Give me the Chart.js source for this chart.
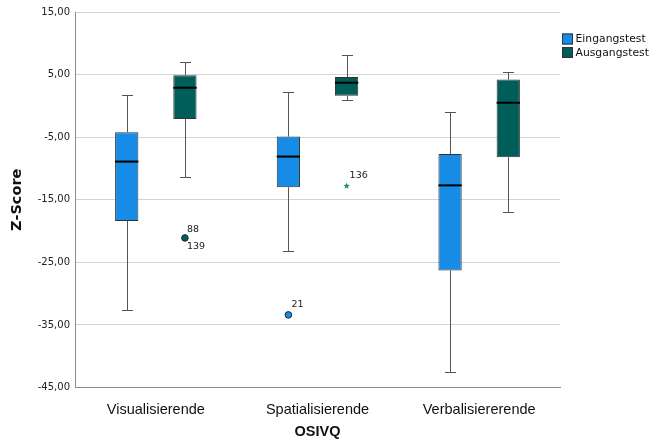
<!DOCTYPE html>
<html><head><meta charset="utf-8">
<script src="https://cdn.jsdelivr.net/npm/chart.js@4.4.1/dist/chart.umd.min.js"></script>
<style>html,body{margin:0;padding:0;background:#fff}#wrap{width:652px;height:441px;position:relative}</style>
</head><body><div id="wrap"><canvas id="c"></canvas></div>
<script>
// ---- data ----
const categories = ['Visualisierende', 'Spatialisierende', 'Verbalisiererende'];
const seriesNames = ['Eingangstest', 'Ausgangstest'];
const yTicks = [-45, -35, -25, -15, -5, 5, 15];

const eingangMin    = [-32.6, -23.2, -42.5];
const eingangQ1     = [-18.4, -13.0, -26.3];
const eingangMedian = [-8.9,  -8.1,  -12.7];
const eingangQ3     = [-4.2,  -4.9,  -7.7];
const eingangMax    = [1.7,    2.2,  -1.0];

const ausgangMin    = [-11.4,  1.0, -17.0];
const ausgangQ1     = [-2.1,   1.6,  -8.2];
const ausgangMedian = [2.9,    3.7,   0.5];
const ausgangQ3     = [4.9,    4.6,   4.2];
const ausgangMax    = [7.0,    8.2,   5.4];

const outlierSeries   = [1, 0, 1];
const outlierCategory = [0, 1, 1];
const outlierValues   = [-21.1, -33.4, -12.8];
const outlierLabels   = [['88', '139'], ['21'], ['136']];
const outlierShapes   = ['circle', 'circle', 'star'];

// ---- styles ----
const colors = ['#178ce6', '#005e5a'];
const starColor = '#2a8580';
const stats = [
  {min: eingangMin, q1: eingangQ1, med: eingangMedian, q3: eingangQ3, max: eingangMax},
  {min: ausgangMin, q1: ausgangQ1, med: ausgangMedian, q3: ausgangQ3, max: ausgangMax}
];

const boxPlugin = {
  id: 'boxparts',
  beforeDatasetsDraw(chart) {
    const ctx = chart.ctx, y = chart.scales.y;
    ctx.save();
    ctx.strokeStyle = '#555'; ctx.lineWidth = 1;
    stats.forEach((s, di) => {
      const meta = chart.getDatasetMeta(di);
      meta.data.forEach((bar, i) => {
        const x = Math.round(bar.x) + 0.5;
        const cap = 5.5;
        const yMax = Math.round(y.getPixelForValue(s.max[i])) + 0.5;
        const yMin = Math.round(y.getPixelForValue(s.min[i])) + 0.5;
        const yQ3 = y.getPixelForValue(s.q3[i]);
        const yQ1 = y.getPixelForValue(s.q1[i]);
        ctx.beginPath();
        ctx.moveTo(x, yMax); ctx.lineTo(x, yQ3);
        ctx.moveTo(x, yQ1); ctx.lineTo(x, yMin);
        ctx.moveTo(x - cap, yMax); ctx.lineTo(x + cap, yMax);
        ctx.moveTo(x - cap, yMin); ctx.lineTo(x + cap, yMin);
        ctx.stroke();
      });
    });
    ctx.restore();
  },
  afterDatasetsDraw(chart) {
    const ctx = chart.ctx, y = chart.scales.y;
    ctx.save();
    // medians
    ctx.strokeStyle = '#000'; ctx.lineWidth = 2;
    stats.forEach((s, di) => {
      const meta = chart.getDatasetMeta(di);
      meta.data.forEach((bar, i) => {
        const ym = y.getPixelForValue(s.med[i]);
        ctx.beginPath();
        ctx.moveTo(bar.x - bar.width / 2, ym);
        ctx.lineTo(bar.x + bar.width / 2, ym);
        ctx.stroke();
      });
    });
    // outliers
    ctx.font = '9.5px "DejaVu Sans"';
    ctx.textBaseline = 'middle'; ctx.textAlign = 'left';
    outlierValues.forEach((v, k) => {
      const bar = chart.getDatasetMeta(outlierSeries[k]).data[outlierCategory[k]];
      const px = bar.x, py = y.getPixelForValue(v);
      if (outlierShapes[k] === 'circle') {
        ctx.beginPath(); ctx.arc(px, py, 3.3, 0, Math.PI * 2);
        ctx.fillStyle = colors[outlierSeries[k]]; ctx.fill();
        ctx.lineWidth = 1; ctx.strokeStyle = '#1a2a2a'; ctx.stroke();
      } else {
        ctx.beginPath();
        for (let j = 0; j < 10; j++) {
          const r = j % 2 === 0 ? 3.4 : 1.4;
          const a = -Math.PI / 2 + j * Math.PI / 5;
          const xx = px + r * Math.cos(a), yy = py + r * Math.sin(a);
          j === 0 ? ctx.moveTo(xx, yy) : ctx.lineTo(xx, yy);
        }
        ctx.closePath(); ctx.fillStyle = starColor; ctx.fill();
      }
      ctx.fillStyle = '#222';
      const labs = outlierLabels[k];
      if (labs.length === 2) {
        ctx.fillText(labs[0], px + 2, py - 8.5);
        ctx.fillText(labs[1], px + 2, py + 8.5);
      } else {
        ctx.fillText(labs[0], px + 3, py - 10);
      }
    });
    ctx.restore();
  },
  afterDraw(chart) {
    const ctx = chart.ctx;
    ctx.save();
    ctx.font = '10.8px "DejaVu Sans"';
    ctx.textBaseline = 'middle'; ctx.textAlign = 'left';
    seriesNames.forEach((name, i) => {
      const bx = 562, by = 33.5 + i * 13.5;
      ctx.fillStyle = colors[i];
      ctx.fillRect(bx, by, 11, 11);
      ctx.strokeStyle = '#333'; ctx.lineWidth = 1;
      ctx.strokeRect(bx + 0.5, by + 0.5, 10, 10);
      ctx.fillStyle = '#111';
      ctx.fillText(name, 575.5, by + 6);
    });
    ctx.restore();
  }
};

new Chart(document.getElementById('c'), {
  type: 'bar',
  data: {
    labels: categories,
    datasets: stats.map((s, di) => ({
      label: seriesNames[di],
      data: s.q1.map((q, i) => [q, s.q3[i]]),
      backgroundColor: colors[di],
      borderColor: '#333',
      borderWidth: 1,
      borderSkipped: false,
      categoryPercentage: 0.72,
      barPercentage: 0.4
    }))
  },
  options: {
    responsive: true,
    maintainAspectRatio: false,
    animation: false,
    layout: {padding: {top: 12, right: 92, left: 0, bottom: 0}},
    plugins: {legend: {display: false}, tooltip: {enabled: false}},
    scales: {
      x: {
        grid: {display: false, drawTicks: false},
        border: {color: '#8c8c8c', width: 1},
        ticks: {color: '#111', font: {family: 'Liberation Sans', size: 14.5}, padding: 14},
        title: {display: true, text: 'OSIVQ', color: '#111',
                font: {family: 'Liberation Sans', size: 14.5, weight: 'bold'}, padding: {top: 1, bottom: 0}},
        afterFit(scale) { scale.height = 53.5; }
      },
      y: {
        min: -45, max: 15,
        afterBuildTicks(scale) { scale.ticks = yTicks.map(v => ({value: v})); },
        grid: {color: '#d4d4d4', lineWidth: 1, drawTicks: false},
        border: {color: '#8c8c8c', width: 1},
        ticks: {color: '#222', font: {family: 'DejaVu Sans', size: 10}, padding: 5,
                callback: v => v.toFixed(2).replace('.', ',')},
        title: {display: true, text: 'Z-Score', color: '#111',
                font: {family: 'DejaVu Sans', size: 14.5, weight: 'bold'}, padding: {top: 9, bottom: 0}},
        afterFit(scale) { scale.width = 75; }
      }
    }
  },
  plugins: [boxPlugin]
});
</script>
</body></html>
